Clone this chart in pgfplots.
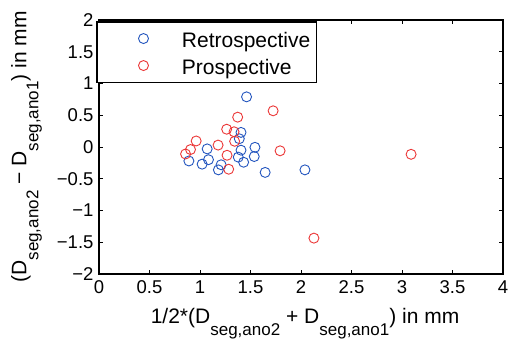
\documentclass[border=0pt]{standalone}
\usepackage{fontspec}
\setmainfont{Liberation Sans}
\usepackage{pgfplots}
\pgfplotsset{compat=1.18}
\definecolor{mblue}{RGB}{35,85,190}
\definecolor{mred}{RGB}{235,55,55}
\newcommand\subx[1]{\raisebox{-12pt}{\fontsize{17}{17}\selectfont #1}}
\begin{document}
\begin{tikzpicture}
\begin{axis}[name=ax,
  width=404pt, height=254pt, scale only axis,
  xmin=0, xmax=4, ymin=-2, ymax=2,
  xtick={0,0.5,...,4}, ytick={-2,-1.5,...,2},
  xticklabels={0,0.5,1,1.5,2,2.5,3,3.5,4},
  yticklabels={−2,−1.5,−1,−0.5,0,0.5,1,1.5,2},
  tick align=inside, major tick length=4pt,
  every tick/.style={black, line width=0.8pt},
  axis line style={black, line width=1.1pt},
  tick label style={font=\fontsize{18.5}{20}\selectfont},
  label style={font=\fontsize{21}{24}\selectfont},
  xticklabel style={yshift=-3pt},
  yticklabel style={xshift=-2pt},
  xlabel={1/2*(D\subx{seg,ano2} + D\subx{seg,ano1}) in mm},
  ylabel={(D\subx{seg,ano2} − D\subx{seg,ano1}) in mm},
  xlabel style={at={(axis description cs:0.51,0)}, anchor=base, yshift=-49pt},
  ylabel style={at={(axis description cs:-0.18,0.5)}, anchor=base},
  legend style={at={(0,1)}, anchor=north west, xshift=-2.5pt, yshift=-1.5pt,
    draw=black, line width=1.1pt, fill=white,
    font=\fontsize{21}{24}\selectfont, inner xsep=6pt, inner ysep=6pt,
    row sep=6pt, nodes={inner sep=0pt},
    /tikz/every even column/.append style={text height=19.5pt, text depth=4.5pt}},
  legend cell align=left,
  legend image code/.code={%
    \path (0pt,0pt) (78pt,0pt);
    \draw[#1, line width=0.9pt, mark repeat=2, mark phase=2] plot coordinates {(0pt,0pt)(40pt,0pt)(78pt,0pt)};
  },
]
\addplot[only marks, mark=o, mark size=5pt, mblue, line width=0.9pt] coordinates {
(1.461,0.79) (1.406,0.23) (1.389,0.13) (1.406,-0.05) (1.379,-0.16)
(1.432,-0.24) (1.544,-0.005) (1.537,-0.15) (1.645,-0.40) (1.071,-0.03)
(1.084,-0.20) (1.021,-0.27) (0.890,-0.22) (1.209,-0.28) (1.182,-0.36)
(2.039,-0.36)
};
\addlegendentry{Retrospective}
\addplot[only marks, mark=o, mark size=5pt, mred, line width=0.9pt] coordinates {
(0.962,0.095) (0.906,-0.04) (0.857,-0.11) (1.179,0.03) (1.268,-0.13)
(1.284,-0.35) (1.264,0.28) (1.337,0.24) (1.343,0.09) (1.373,0.47)
(1.724,0.57) (1.793,-0.06) (3.09,-0.115) (2.128,-1.435)
};
\addlegendentry{Prospective}
\end{axis}
\pgfresetboundingbox
\path[use as bounding box] (ax.south west) ++(-99pt,-66pt) rectangle ++(510pt,340pt);
\end{tikzpicture}
\end{document}
